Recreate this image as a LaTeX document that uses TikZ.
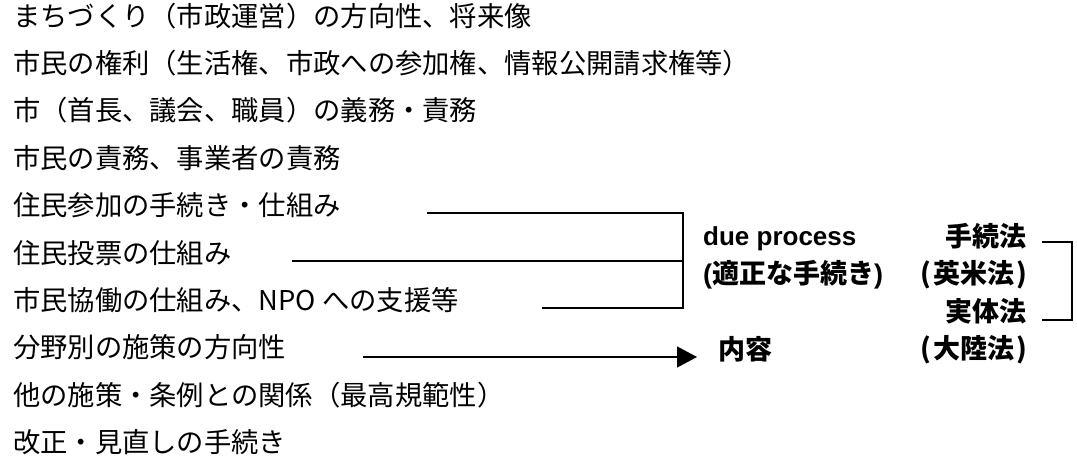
\documentclass[tikz,border=0pt]{standalone}
\usepackage{fontspec}
\setmainfont{Noto Sans CJK JP}
\newfontfamily\latfont{Liberation Sans}
\usetikzlibrary{arrows.meta}
\begin{document}
\begin{tikzpicture}[x=1pt,y=-1pt,
  item/.style={anchor=west, inner sep=0pt, font=\fontsize{27.3}{32}\selectfont, text height=0.8em, text depth=0.08em},
  lbl/.style={inner sep=0pt, font=\fontsize{27}{32}\selectfont\bfseries, text height=0.8em, text depth=0.08em},
  conn/.style={line width=1.4pt, line cap=butt, line join=miter},
  arr/.style={conn, -{Triangle[length=20pt,width=21pt]}}]
\useasboundingbox (0,0) rectangle (1077,468);
% left list
\node[item] (r1)  at (13,22.5)  {まちづくり（市政運営）の方向性、将来像};
\node[item] (r2)  at (13,69.9)  {市民の権利（生活権、市政への参加権、情報公開請求権等）};
\node[item] (r3)  at (13,117.3) {市（首長、議会、職員）の義務・責務};
\node[item] (r4)  at (13,164.7) {市民の責務、事業者の責務};
\node[item] (r5)  at (13,212.1) {住民参加の手続き・仕組み};
\node[item] (r6)  at (13,259.5) {住民投票の仕組み};
\node[item] (r7)  at (13,306.9) {市民協働の仕組み、NPO への支援等};
\node[item] (r8)  at (13,354.3) {分野別の施策の方向性};
\node[item] (r9)  at (13,401.7) {他の施策・条例との関係（最高規範性）};
\node[item] (r10) at (13,449.1) {改正・見直しの手続き};
% right labels
\node[lbl,anchor=west] (due) at (703,242) {\latfont\fontsize{26}{30}\selectfont due process};
\node[lbl,anchor=west] (tekisei) at (703,280) {{\latfont (}適正な手続き{\latfont )}};
\node[lbl,anchor=west] (naiyo) at (718,356) {内容};
\node[lbl,anchor=east] (tetsu) at (1027,243) {手続法};
\node[lbl,anchor=east] (eibei) at (1027,280) {(\kern2pt 英米法\kern2pt)};
\node[lbl,anchor=east] (jittai) at (1027,318) {実体法};
\node[lbl,anchor=east] (tairiku) at (1027,355) {(\kern2pt 大陸法\kern2pt)};
% connector coordinates
\coordinate (s5) at (427,213);
\coordinate (s6) at (292,261);
\coordinate (s7) at (542,308);
\coordinate (s8) at (363,357);
\coordinate (t8) at (697,357);
\coordinate (j5) at (683,213);
\coordinate (j6) at (683,261);
\coordinate (j7) at (683,308);
\coordinate (b1) at (1042,242);
\coordinate (b2) at (1042,320);
\coordinate (c1) at (1072,242);
\coordinate (c2) at (1072,320);
% connectors
\draw[conn] (s5) -- (j5) -- (j7) -- (s7);
\draw[conn] (s6) -- (j6);
\draw[arr] (s8) -- (t8);
\draw[conn] (b1) -- (c1) -- (c2) -- (b2);
\end{tikzpicture}
\end{document}
